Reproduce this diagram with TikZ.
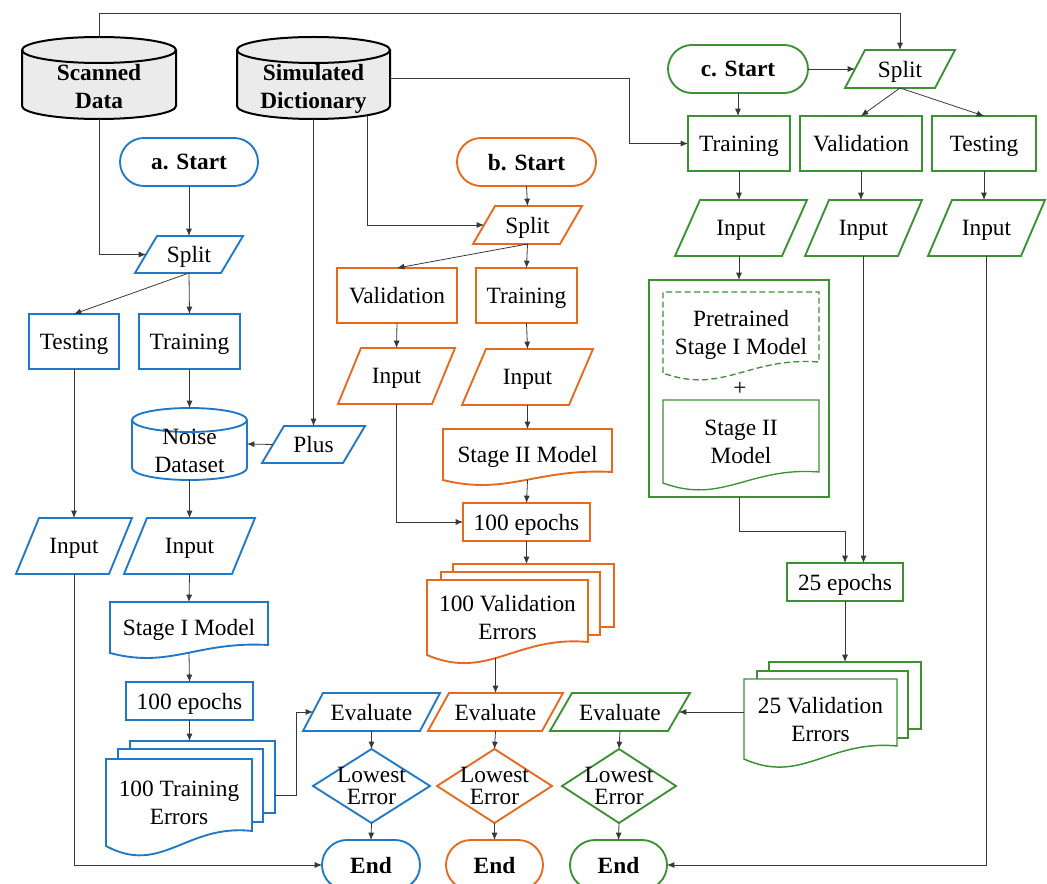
\documentclass[tikz,border=0pt]{standalone}
\usepackage{fontspec}
\setmainfont{Liberation Serif}
\usetikzlibrary{calc,arrows.meta}
\definecolor{cb}{HTML}{1F78C8}
\definecolor{co}{HTML}{E8691E}
\definecolor{cg}{HTML}{3C9133}
\definecolor{cgf}{HTML}{EBEBEB}
\pgfdeclarelayer{bg}\pgfsetlayers{bg,main}
\newcommand\fs{\fontsize{17.5}{21}\selectfont}
\newcommand\bx[6]{\node[#1,minimum width={(#5-#3)*0.75pt},minimum height={(#6-#4)*0.75pt}] (#2) at ({(#3+#5)/2},{(#4+#6)/2})}
\newcommand\para[3]{\begin{pgfonlayer}{bg}\draw[#1,fill=white] ($(#2.north west)+(#3,0)$) -- (#2.north east) -- ($(#2.south east)+(-#3,0)$) -- (#2.south west) -- cycle;\end{pgfonlayer}}
\newcommand\docp[3]{\begin{pgfonlayer}{bg}\draw[#1] (#2.south west) -- (#2.north west) -- (#2.north east) -- ($(#2.south east)+(0,-#3)$) .. controls ($(#2.south west)!0.55!(#2.south east)+(0,{-1.5*#3})$) and ($(#2.south west)!0.38!(#2.south east)+(0,{2*#3})$) .. (#2.south west) -- cycle;\end{pgfonlayer}}
\newcommand\sheet[2]{\begin{pgfonlayer}{bg}\draw[#1,fill=white] (#2.north west) rectangle (#2.south east);\end{pgfonlayer}}
\newcommand\diam[2]{\begin{pgfonlayer}{bg}\draw[#1] (#2.north) -- (#2.east) -- (#2.south) -- (#2.west) -- cycle;\end{pgfonlayer}}
\newcommand\cyl[6]{%
 \pgfmathsetmacro\cx{(#2+#4)/2}\pgfmathsetmacro\rx{(#4-#2)/2}%
 \begin{pgfonlayer}{bg}%
 \draw[#1] (#2,{#3+#6}) -- (#2,{#5-#6}) .. controls (#2,{#5-#6+0.5523*#6}) and ({\cx-0.5523*\rx},#5) .. (\cx,#5) .. controls ({\cx+0.5523*\rx},#5) and (#4,{#5-#6+0.5523*#6}) .. (#4,{#5-#6}) -- (#4,{#3+#6}) .. controls (#4,{#3+#6-0.5523*#6}) and ({\cx+0.5523*\rx},#3) .. (\cx,#3) .. controls ({\cx-0.5523*\rx},#3) and (#2,{#3+#6-0.5523*#6}) .. cycle;
 \draw[#1,fill=none] (#2,{#3+#6}) .. controls (#2,{#3+#6+0.5523*#6}) and ({\cx-0.5523*\rx},{#3+2*#6}) .. (\cx,{#3+2*#6}) .. controls ({\cx+0.5523*\rx},{#3+2*#6}) and (#4,{#3+#6+0.5523*#6}) .. (#4,{#3+#6});
 \end{pgfonlayer}}
\begin{document}
\begin{tikzpicture}[x=0.75pt,y=-0.75pt,
  every node/.style={inner sep=0pt,outer sep=0pt,align=center,font=\fs,text depth=0pt},
  bl/.style={draw=cb,line width=1.4pt},
  og/.style={draw=co,line width=1.4pt},
  gn/.style={draw=cg,line width=1.4pt},
  thin/.style={line width=1pt},
  bold/.style={font=\fs\bfseries},
  term/.style={rounded corners=18pt,font=\fs\bfseries},
  endt/.style={rounded corners=18.75pt,font=\fs\bfseries},
  dia/.style={font=\fontsize{17.5}{16.5}\selectfont},
  conn/.style={draw=black!78,line width=0.6pt,-{Latex[length=5.5pt,width=4.5pt]}}]
\useasboundingbox (0,0) rectangle (1047,884);

% ---------- data sources ----------
\cyl{draw=black,line width=1.5pt,fill=cgf}{22}{37}{176}{119}{13}
\bx{}{sd}{22}{37}{176}{119} {};
\node[bold] (sdt) at (99,86) {Scanned\\Data};
\cyl{draw=black,line width=1.5pt,fill=cgf}{237}{37}{390}{119}{13}
\bx{}{dict}{237}{37}{390}{119} {};
\node[bold] (dictt) at (313.5,86) {Simulated\\Dictionary};

% ---------- a ----------
\bx{bl,term}{aStart}{120}{138}{258}{186} {a. Start};
\bx{}{aSplit}{135}{236}{243}{273} {Split}; \para{bl}{aSplit}{22}
\bx{bl}{aTest}{29}{314}{119}{369} {Testing};
\bx{bl}{aTrain}{139}{314}{240}{369} {Training};
\cyl{draw=cb,line width=1.4pt,fill=white}{132}{408}{247}{480}{12}
\bx{}{aNoise}{132}{408}{247}{480} {};
\node (aNoiseT) at (189.5,451) {Noise\\Dataset};
\bx{}{aPlus}{262}{426}{365}{463} {Plus}; \para{bl}{aPlus}{22}
\bx{}{aIn1}{16}{518}{132}{574} {Input}; \para{bl}{aIn1}{23}
\bx{}{aIn2}{124}{518}{255}{574} {Input}; \para{bl}{aIn2}{23}
\bx{}{aS1}{110}{602}{268}{653} {Stage I Model}; \docp{bl,fill=white}{aS1}{8}
\bx{bl}{aEp}{126}{682}{253}{720} {100 epochs};
\bx{}{aBack}{130}{741}{275}{813} {}; \sheet{bl}{aBack}
\bx{}{aMid}{118}{749}{263}{822} {}; \sheet{bl}{aMid}
\bx{}{aFront}{106}{759}{252}{846} {100 Training\\Errors}; \docp{bl,fill=white}{aFront}{15}
\bx{}{aEval}{303}{693}{440}{731} {Evaluate}; \para{bl}{aEval}{20}
\bx{dia}{aDia}{313}{749}{430}{823} {Lowest\\Error}; \diam{bl}{aDia}
\bx{bl,endt}{aEnd}{322}{840}{420}{890} {End};

% ---------- b ----------
\bx{og,term}{bStart}{457}{138}{596}{186} {b. Start};
\bx{}{bSplit}{473}{206}{582}{244} {Split}; \para{og}{bSplit}{22}
\bx{og}{bVal}{337}{268}{457}{323} {Validation};
\bx{og}{bTrain}{476}{268}{577}{323} {Training};
\bx{}{bIn1}{338}{348}{455}{404} {Input}; \para{og}{bIn1}{23}
\bx{}{bIn2}{462}{349}{593}{405} {Input}; \para{og}{bIn2}{24}
\bx{}{bS2}{443}{429}{612}{480} {Stage II Model}; \docp{og,fill=white}{bS2}{8}
\bx{og}{bEp}{463}{503}{590}{541} {100 epochs};
\bx{}{bBack}{453}{564}{614}{627} {}; \sheet{og}{bBack}
\bx{}{bMid}{441}{572}{600}{635} {}; \sheet{og}{bMid}
\bx{}{bFront}{427}{580}{588}{655} {100 Validation\\Errors}; \docp{og,fill=white}{bFront}{13}
\bx{}{bEval}{428}{693}{563}{731} {Evaluate}; \para{og}{bEval}{21}
\bx{dia}{bDia}{437}{749}{552}{823} {Lowest\\Error}; \diam{og}{bDia}
\bx{og,endt}{bEnd}{446}{840}{543}{890} {End};

% ---------- c ----------
\bx{gn,term}{cStart}{668}{45}{808}{93} {c. Start};
\bx{}{cSplit}{845}{50}{955}{88} {Split}; \para{gn}{cSplit}{20}
\bx{gn}{cTrain}{688}{116}{790}{171} {Training};
\bx{gn}{cVal}{800}{116}{922}{171} {Validation};
\bx{gn}{cTest}{932}{116}{1036}{171} {Testing};
\bx{}{cIn1}{675}{200}{807}{256} {Input}; \para{gn}{cIn1}{25}
\bx{}{cIn2}{805}{200}{922}{256} {Input}; \para{gn}{cIn2}{24}
\bx{}{cIn3}{928}{200}{1045}{256} {Input}; \para{gn}{cIn3}{24}
\bx{gn}{cBig}{649}{280}{829}{497} {};
\bx{}{cPre}{663}{292}{819}{373} {Pretrained\\Stage I Model}; \docp{draw=cg,thin,dash pattern=on 4.5pt off 2.5pt}{cPre}{11}
\node (cPlus) at (740,389) {+};
\bx{}{cS2}{663}{400}{819}{483} {Stage II\\Model}; \docp{draw=cg,thin}{cS2}{11}
\bx{gn,thin}{cEp}{787}{563}{903}{601} {25 epochs};
\bx{}{cBack}{769}{662}{921}{729} {}; \sheet{draw=cg,line width=1.1pt}{cBack}
\bx{}{cMid}{757}{671}{908}{738} {}; \sheet{draw=cg,line width=1.1pt}{cMid}
\bx{}{cFront}{744}{679}{897}{759} {25 Validation\\Errors}; \docp{draw=cg,line width=1.1pt,fill=white}{cFront}{13}
\bx{}{cEval}{550}{693}{690}{731} {Evaluate}; \para{gn}{cEval}{22}
\bx{dia}{cDia}{562}{749}{676}{823} {Lowest\\Error}; \diam{gn}{cDia}
\bx{gn,endt}{cEnd}{570}{840}{667}{890} {End};

% ---------- connectors ----------
\coordinate (topY) at (0,13);
\draw[conn] (sd.north) |- (cSplit.north |- topY) -- (cSplit.north);
\draw[conn] (sd.south) |- ($(aSplit.west)+(11,0)$);
\draw[conn] (dict.south) -- (aPlus.north);
\draw[conn] ($(dict.south)+(54,-3)$) |- ($(bSplit.west)+(11,0)$);
\draw[conn] (dict.east) -| ($(cTrain.west)+(-59,0)$) -- (cTrain.west);

\draw[conn] (aStart.south) -- (aSplit.north);
\draw[conn] (aSplit.south) -- (aTest.north);
\draw[conn] (aSplit.south) -- (aTrain.north);
\draw[conn] (aTest.south) -- (aIn1.north);
\draw[conn] (aTrain.south) -- (aNoise.north);
\draw[conn] ($(aPlus.west)+(11,0)$) -- (aNoise.east);
\draw[conn] (aNoise.south) -- (aIn2.north);
\draw[conn] (aIn2.south) -- (aS1.north);
\draw[conn] (aS1.south) -- (aEp.north);
\draw[conn] (aEp.south) -- (aEp.south |- aBack.north);
\draw[conn] ($(aBack.south east)+(0,-18)$) -- ++(21,0) |- ($(aEval.west)+(10,0)$);
\draw[conn] (aEval.south) -- (aDia.north);
\draw[conn] (aDia.south) -- (aEnd.north);
\draw[conn] (aIn1.south) |- (aEnd.west);

\draw[conn] (bStart.south) -- (bSplit.north);
\draw[conn] (bSplit.south) -- (bTrain.north);
\draw[conn] (bSplit.south) -- (bVal.north);
\draw[conn] (bVal.south) -- (bIn1.north);
\draw[conn] (bTrain.south) -- (bIn2.north);
\draw[conn] (bIn2.south) -- (bS2.north);
\draw[conn] (bS2.south) -- (bEp.north);
\draw[conn] (bIn1.south) |- (bEp.west);
\draw[conn] (bEp.south) -- (bEp.south |- bBack.north);
\draw[conn] ($(bEval.north |- bFront.south)+(0,3)$) -- (bEval.north);
\draw[conn] (bEval.south) -- (bDia.north);
\draw[conn] (bDia.south) -- (bEnd.north);

\draw[conn] (cStart.east) -- ($(cSplit.west)+(10,0)$);
\draw[conn] (cStart.south) -- (cStart.south |- cTrain.north);
\draw[conn] (cSplit.south) -- (cVal.north);
\draw[conn] (cSplit.south) -- (cTest.north);
\draw[conn] (cTrain.south) -- (cTrain.south |- cIn1.north);
\draw[conn] (cVal.south) -- (cVal.south |- cIn2.north);
\draw[conn] (cTest.south) -- (cTest.south |- cIn3.north);
\draw[conn] (cTrain.south |- cIn1.south) -- (cTrain.south |- cBig.north);
\draw[conn] (cBig.south) |- ($(cEp.north)+(0,-32)$) -- (cEp.north);
\draw[conn] (cIn2.south) -- (cIn2.south |- cEp.north);
\draw[conn] (cEp.south) -- (cEp.south |- cBack.north);
\draw[conn] (cEval.east -| cFront.west) -- ($(cEval.east)+(-11,0)$);
\draw[conn] (cEval.south) -- (cDia.north);
\draw[conn] (cDia.south) -- (cEnd.north);
\draw[conn] (cIn3.south) |- (cEnd.east);
\end{tikzpicture}
\end{document}
